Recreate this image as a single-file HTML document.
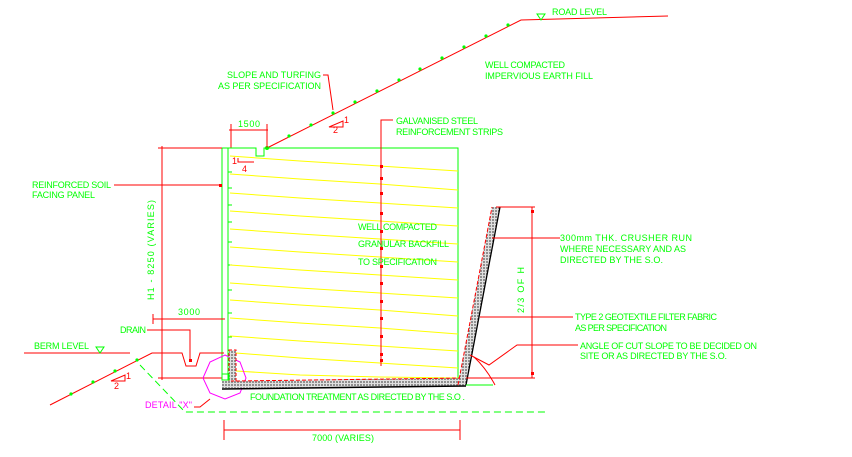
<!DOCTYPE html>
<html><head><meta charset="utf-8"><style>
html,body{margin:0;padding:0;background:#fff;}
svg{display:block;}
text{font-family:"Liberation Sans",sans-serif;font-size:9px;fill:#00ff00;}
.r{stroke:#ff0000;stroke-width:1;fill:none;}
.g{stroke:#00ff00;stroke-width:1;fill:none;}
.y{stroke:#ffff00;stroke-width:1;fill:none;}
.rt{fill:#ff0000;}
</style></head><body>
<svg width="852" height="457" viewBox="0 0 852 457" xmlns="http://www.w3.org/2000/svg">
<defs>
<pattern id="h" width="3" height="3" patternUnits="userSpaceOnUse"><rect width="3" height="3" fill="#e0e0e0"/><rect width="2" height="2" fill="#909090"/></pattern>
</defs>
<polyline class="r" points="267,148 521,20 668,16"/>
<g fill="#00ff00">
<circle cx="267" cy="148" r="2"/><circle cx="289" cy="136" r="1.6"/><circle cx="311" cy="125" r="1.6"/><circle cx="333" cy="113" r="1.6"/><circle cx="355" cy="102" r="1.6"/><circle cx="377" cy="91" r="1.6"/><circle cx="399" cy="80" r="1.6"/><circle cx="420" cy="69" r="1.6"/><circle cx="442" cy="58" r="1.6"/><circle cx="464" cy="47" r="1.6"/><circle cx="486" cy="36" r="1.6"/><circle cx="508" cy="25" r="1.6"/>
</g>
<polygon points="537,14 545,14 541,20" fill="none" stroke="#00ff00"/>
<text x="552" y="15" textLength="55" lengthAdjust="spacing">ROAD LEVEL</text>
<text x="485" y="68" textLength="80" lengthAdjust="spacing">WELL COMPACTED</text>
<text x="485" y="79" textLength="108" lengthAdjust="spacing">IMPERVIOUS EARTH FILL</text>
<text x="227" y="78" textLength="94" lengthAdjust="spacing">SLOPE AND TURFING</text>
<text x="218" y="89" textLength="103" lengthAdjust="spacing">AS PER SPECIFICATION</text>
<polyline class="r" points="323,75 328,75 333,110"/>
<polygon points="329,127 343,127 343,121" class="r"/>
<text x="344" y="123" style="fill:#f00">1</text><text x="333" y="133" style="fill:#f00">2</text>
<line class="r" x1="229" y1="130" x2="268" y2="130"/><line class="r" x1="231" y1="124" x2="231" y2="148"/><line class="r" x1="267" y1="124" x2="267" y2="148"/>
<text x="238" y="127" textLength="22" lengthAdjust="spacing">1500</text>
<polyline class="g" points="222,380 222,148 256,148 256,156 264,156 264,148 458,148 458,380"/>
<line class="g" x1="228" y1="148" x2="228" y2="380"/>
<g class="g">
<line x1="228" y1="172" x2="232" y2="172"/><line x1="228" y1="188" x2="232" y2="188"/><line x1="228" y1="205" x2="232" y2="205"/><line x1="228" y1="222" x2="232" y2="222"/><line x1="228" y1="242" x2="232" y2="242"/><line x1="228" y1="265" x2="232" y2="265"/><line x1="228" y1="290" x2="232" y2="290"/><line x1="228" y1="313" x2="232" y2="313"/><line x1="228" y1="337" x2="232" y2="337"/><line x1="228" y1="357" x2="232" y2="357"/>
</g>
<g class="y">
<polyline points="230,156 300,161 380,166 458,171"/>
<polyline points="230,174 300,179 380,184 458,190"/>
<polyline points="230,193 300,198 380,203 458,208"/>
<polyline points="230,211 300,216 380,221 458,226"/>
<polyline points="230,229 300,234 380,239 458,244"/>
<polyline points="230,247 300,252 380,257 458,262"/>
<polyline points="230,265 300,270 380,275 458,280"/>
<polyline points="230,283 300,288 380,293 458,298"/>
<polyline points="230,300 300,305 380,310 458,316"/>
<polyline points="230,318 300,323 380,328 458,334"/>
<polyline points="230,336 300,341 380,346 458,351"/>
<polyline points="236,353 300,358 380,363 458,368"/>
<polyline points="236,371 300,375 380,377 458,378"/>
</g>
<text x="232" y="164" style="fill:#f00">1</text><polyline class="r" points="238,158 238,162 254,162"/><text x="242" y="172" style="fill:#f00">4</text>
<polyline class="r" points="393,120 381,120 381,366"/>
<g class="rt">
<rect x="380" y="165" width="3" height="3"/><rect x="380" y="177" width="3" height="3"/><rect x="380" y="192" width="3" height="3"/><rect x="380" y="212" width="3" height="3"/><rect x="380" y="230" width="3" height="3"/><rect x="380" y="247" width="3" height="3"/><rect x="380" y="265" width="3" height="3"/><rect x="380" y="282" width="3" height="3"/><rect x="380" y="300" width="3" height="3"/><rect x="380" y="317" width="3" height="3"/><rect x="380" y="335" width="3" height="3"/><rect x="380" y="353" width="3" height="3"/><rect x="380" y="359" width="3" height="3"/>
</g>
<text x="396" y="124" textLength="82" lengthAdjust="spacing">GALVANISED STEEL</text>
<text x="396" y="135" textLength="107" lengthAdjust="spacing">REINFORCEMENT STRIPS</text>
<text x="358" y="230" textLength="79" lengthAdjust="spacing">WELL COMPACTED</text>
<text x="358" y="247" textLength="91" lengthAdjust="spacing">GRANULAR BACKFILL</text>
<text x="358" y="265" textLength="79" lengthAdjust="spacing">TO SPECIFICATION</text>
<line class="r" x1="162" y1="146" x2="162" y2="380"/><line class="r" x1="158" y1="148" x2="222" y2="148"/><line class="r" x1="158" y1="378" x2="222" y2="378"/>
<line class="r" x1="114" y1="185" x2="220" y2="185"/><rect class="rt" x="219" y="184" width="3" height="3"/>
<text x="32" y="188" textLength="79" lengthAdjust="spacing">REINFORCED SOIL</text><text x="32" y="198" textLength="63" lengthAdjust="spacing">FACING PANEL</text>
<text transform="translate(154,250) rotate(-90)" text-anchor="middle" textLength="100" lengthAdjust="spacing">H1 - 8250 (VARIES)</text>
<line class="r" x1="153" y1="319" x2="225" y2="319"/><line class="r" x1="153" y1="314" x2="153" y2="324"/>
<text x="178" y="315" textLength="22" lengthAdjust="spacing">3000</text>
<text x="120" y="333" textLength="26" lengthAdjust="spacing">DRAIN</text>
<polyline class="r" points="147,330 190,330 190,360"/>
<rect class="rt" x="189" y="359" width="3" height="3"/>
<line class="r" x1="24" y1="353" x2="130" y2="353"/>
<text x="34" y="349" textLength="55" lengthAdjust="spacing">BERM LEVEL</text>
<polygon points="96,347 104,347 100,353" fill="none" stroke="#00ff00"/>
<polyline class="r" points="50,405 152,353 182,353 186,366 196,366 200,353 224,353"/>
<g fill="#00ff00"><circle cx="137" cy="360" r="1.6"/><circle cx="115" cy="371" r="1.6"/><circle cx="93" cy="382" r="1.6"/><circle cx="71" cy="394" r="1.6"/></g>
<polygon points="111,381 125,381 125,375" class="r"/><text x="126" y="379" style="fill:#f00">1</text><text x="114" y="389" style="fill:#f00">2</text>
<polyline points="140,365 185,412 545,412" fill="none" stroke="#00ff00" stroke-dasharray="7,4"/>
<polygon points="225,355 240,362 246,378 240,393 225,399 210,393 203,378 210,362" fill="none" stroke="#ff00ff"/>
<text x="145" y="408" style="fill:#ff00ff" textLength="47" lengthAdjust="spacing">DETAIL "X"</text>
<polyline points="194,407 200,407 210,399" fill="none" stroke="#ff0000"/>
<polygon points="222,381 466,378 466,386 222,388" fill="url(#h)"/>
<polyline points="236,381 466,378" fill="none" stroke="#f00" stroke-dasharray="4,2"/>
<line x1="222" y1="389" x2="466" y2="386" stroke="#000" stroke-width="1.5"/>
<rect x="229" y="350" width="7" height="31" fill="url(#h)" stroke="#f00" stroke-dasharray="3,2"/>
<rect x="222" y="374" width="7" height="6" fill="none" stroke="#00ff00"/>
<text x="250" y="400" textLength="215" lengthAdjust="spacing">FOUNDATION TREATMENT AS DIRECTED BY THE S.O .</text>
<polygon points="458,385 492,207 500,207 466,385" fill="url(#h)"/>
<line x1="458" y1="385" x2="492" y2="207" stroke="#f00" stroke-dasharray="4,2"/>
<line x1="466" y1="385" x2="500" y2="207" stroke="#000" stroke-width="1.3"/>
<line class="g" x1="466" y1="385" x2="493" y2="385"/>
<line class="r" x1="496" y1="207" x2="535" y2="207"/><line class="r" x1="532" y1="207" x2="532" y2="378"/><line class="r" x1="466" y1="378" x2="535" y2="378"/>
<rect class="rt" x="531" y="210" width="3" height="3"/><rect class="rt" x="531" y="372" width="3" height="3"/>
<text transform="translate(524,290) rotate(-90)" text-anchor="middle" textLength="46" lengthAdjust="spacing">2/3 OF H</text>
<line class="r" x1="492" y1="238" x2="560" y2="238"/>
<text x="560" y="241" textLength="132" lengthAdjust="spacing">300mm THK. CRUSHER RUN</text>
<text x="560" y="252" textLength="126" lengthAdjust="spacing">WHERE NECESSARY AND AS</text>
<text x="560" y="263" textLength="103" lengthAdjust="spacing">DIRECTED BY THE S.O.</text>
<line class="r" x1="480" y1="317" x2="573" y2="317"/>
<text x="575" y="320" textLength="142" lengthAdjust="spacing">TYPE 2 GEOTEXTILE FILTER FABRIC</text>
<text x="575" y="331" textLength="92" lengthAdjust="spacing">AS PER SPECIFICATION</text>
<polyline class="r" points="470,355 489,365 517,345 578,345"/>
<path class="r" d="M474,357 Q486,368 495,385"/>
<text x="580" y="349" textLength="177" lengthAdjust="spacing">ANGLE OF CUT SLOPE TO BE DECIDED ON</text>
<text x="580" y="359" textLength="147" lengthAdjust="spacing">SITE OR AS DIRECTED BY THE S.O.</text>
<line class="r" x1="224" y1="430" x2="460" y2="430"/><line class="r" x1="224" y1="420" x2="224" y2="440"/><line class="r" x1="460" y1="420" x2="460" y2="440"/>
<text x="312" y="441" textLength="62" lengthAdjust="spacing">7000 (VARIES)</text>
</svg>
</body></html>
